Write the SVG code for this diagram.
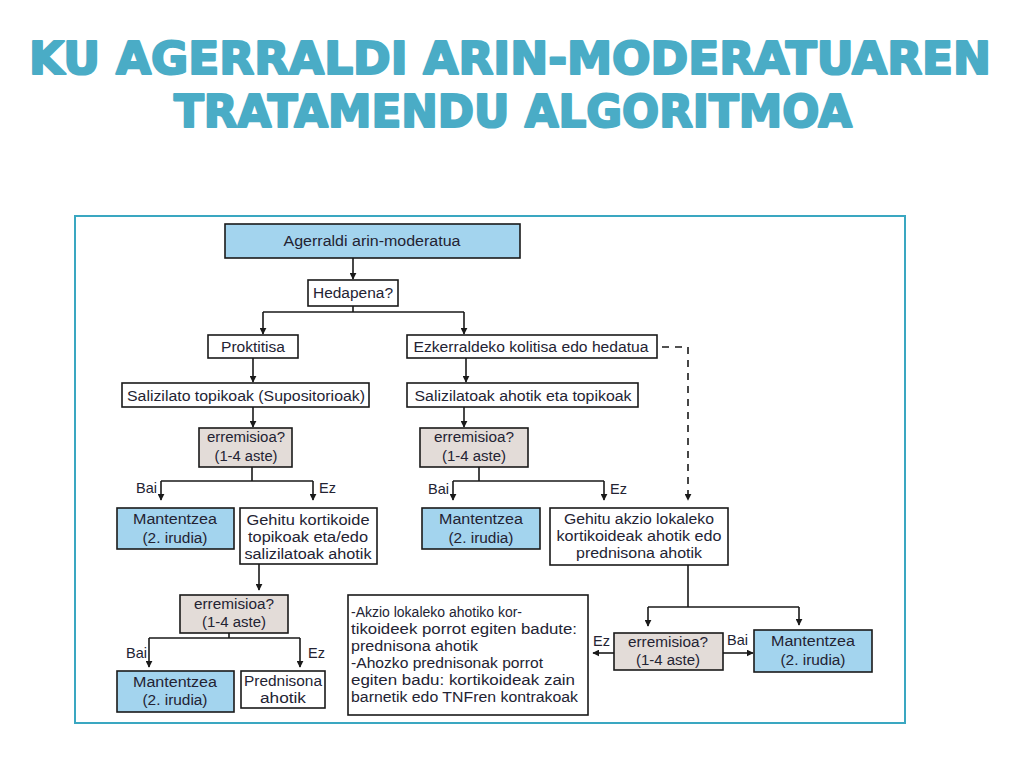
<svg xmlns="http://www.w3.org/2000/svg" width="1024" height="768" viewBox="0 0 1024 768">
<style>
.title{font-family:"DejaVu Sans","Liberation Sans",sans-serif;font-weight:bold;fill:#4aacc6;stroke:#4aacc6;stroke-width:2.2;stroke-linejoin:round;}
.box{stroke:#1a1a1a;stroke-width:1.6;}
.w{fill:#ffffff;}
.b{fill:#a3d4ee;}
.g{fill:#e3dcd8;}
.t{font-family:"Liberation Sans",Arial,sans-serif;font-size:15.5px;fill:#232333;text-anchor:middle;}
.tl{font-family:"Liberation Sans",Arial,sans-serif;font-size:15.5px;fill:#232333;}
.lab{font-family:"Liberation Sans",Arial,sans-serif;font-size:14.5px;fill:#232333;}
.c{fill:none;stroke:#1a1a1a;stroke-width:1.6;}
.d{fill:none;stroke:#1a1a1a;stroke-width:1.6;stroke-dasharray:7,6;}
</style>
<defs>
<marker id="ah" viewBox="0 0 10 10" refX="9" refY="5" markerWidth="7" markerHeight="7" markerUnits="userSpaceOnUse" orient="auto">
<path d="M0,0 L10,5 L0,10 z" fill="#1a1a1a"/>
</marker>
</defs>
<rect width="1024" height="768" fill="#ffffff"/>
<g id="title">
<text class="title" x="29" y="74" font-size="45" textLength="962" lengthAdjust="spacingAndGlyphs">KU AGERRALDI ARIN-MODERATUAREN</text>
<text class="title" x="174" y="127" font-size="45" textLength="678" lengthAdjust="spacingAndGlyphs">TRATAMENDU ALGORITMOA</text>
</g>
<rect id="frame" x="75" y="216" width="830" height="507" fill="none" stroke="#3aa7c1" stroke-width="2"/>
<g id="connectors">
<path class="c" d="M353,258 V279" marker-end="url(#ah)"/>
<path class="c" d="M353,306 V312 M263,312 H464"/>
<path class="c" d="M263,312 V334" marker-end="url(#ah)"/>
<path class="c" d="M464,312 V334" marker-end="url(#ah)"/>
<path class="c" d="M253,358 V382" marker-end="url(#ah)"/>
<path class="c" d="M466,358 V382" marker-end="url(#ah)"/>
<path class="c" d="M253,407 V427" marker-end="url(#ah)"/>
<path class="c" d="M464,407 V427" marker-end="url(#ah)"/>
<path class="c" d="M252,467 V481 M161,481 H313"/>
<path class="c" d="M161,481 V500" marker-end="url(#ah)"/>
<path class="c" d="M313,481 V500" marker-end="url(#ah)"/>
<path class="c" d="M479,467 V481 M453,481 H604"/>
<path class="c" d="M453,481 V500" marker-end="url(#ah)"/>
<path class="c" d="M604,481 V500" marker-end="url(#ah)"/>
<path class="c" d="M259,564 V590" marker-end="url(#ah)"/>
<path class="c" d="M229,633 V638 M149,638 H300"/>
<path class="c" d="M149,638 V667" marker-end="url(#ah)"/>
<path class="c" d="M300,638 V667" marker-end="url(#ah)"/>
<path class="d" d="M662,347 H688 V500" marker-end="url(#ah)"/>
<path class="c" d="M688,565 V607 M648,607 H799"/>
<path class="c" d="M648,607 V626" marker-end="url(#ah)"/>
<path class="c" d="M799,607 V625" marker-end="url(#ah)"/>
<path class="c" d="M614,653 H593" marker-end="url(#ah)"/>
<path class="c" d="M723,653 H753" marker-end="url(#ah)"/>
<text class="lab" x="157" y="493" text-anchor="end">Bai</text>
<text class="lab" x="319" y="493">Ez</text>
<text class="lab" x="449" y="494" text-anchor="end">Bai</text>
<text class="lab" x="610" y="494">Ez</text>
<text class="lab" x="147" y="658" text-anchor="end">Bai</text>
<text class="lab" x="308" y="658">Ez</text>
<text class="lab" x="593" y="646">Ez</text>
<text class="lab" x="727" y="645">Bai</text>
</g>
<g id="n-agerraldi">
<rect class="box b" x="225" y="224" width="295" height="34"/>
<text class="t" x="372" y="246" textLength="177" lengthAdjust="spacingAndGlyphs">Agerraldi arin-moderatua</text>
</g>
<g id="n-hedapena">
<rect class="box w" x="308" y="280" width="90" height="26"/>
<text class="t" x="353" y="298" textLength="80" lengthAdjust="spacingAndGlyphs">Hedapena?</text>
</g>
<g id="n-proktitisa">
<rect class="box w" x="208" y="335" width="90" height="23"/>
<text class="t" x="253" y="352" textLength="64" lengthAdjust="spacingAndGlyphs">Proktitisa</text>
</g>
<g id="n-ezkerraldeko">
<rect class="box w" x="407" y="335" width="250" height="23"/>
<text class="t" x="531" y="352" textLength="235" lengthAdjust="spacingAndGlyphs">Ezkerraldeko kolitisa edo hedatua</text>
</g>
<g id="n-salizilato-topikoak">
<rect class="box w" x="122" y="383" width="247" height="24"/>
<text class="t" x="246" y="401" textLength="238" lengthAdjust="spacingAndGlyphs">Salizilato topikoak (Supositorioak)</text>
</g>
<g id="n-salizilatoak-ahotik">
<rect class="box w" x="407" y="383" width="231" height="24"/>
<text class="t" x="523" y="401" textLength="217" lengthAdjust="spacingAndGlyphs">Salizilatoak ahotik eta topikoak</text>
</g>
<g id="n-erremisioa-1">
<rect class="box g" x="199" y="428" width="93" height="39"/>
<text class="t" x="246" y="442" textLength="78" lengthAdjust="spacingAndGlyphs">erremisioa?</text>
<text class="t" x="246" y="461" textLength="63" lengthAdjust="spacingAndGlyphs">(1-4 aste)</text>
</g>
<g id="n-erremisioa-3">
<rect class="box g" x="420" y="428" width="108" height="39"/>
<text class="t" x="474" y="442" textLength="80" lengthAdjust="spacingAndGlyphs">erremisioa?</text>
<text class="t" x="474" y="461" textLength="64" lengthAdjust="spacingAndGlyphs">(1-4 aste)</text>
</g>
<g id="n-mantentzea-1">
<rect class="box b" x="117" y="508" width="117" height="41"/>
<text class="t" x="175" y="524" textLength="84" lengthAdjust="spacingAndGlyphs">Mantentzea</text>
<text class="t" x="175" y="543" textLength="65" lengthAdjust="spacingAndGlyphs">(2. irudia)</text>
</g>
<g id="n-gehitu-kortikoide">
<rect class="box w" x="240" y="508" width="137" height="56"/>
<text class="t" x="308" y="525" textLength="123" lengthAdjust="spacingAndGlyphs">Gehitu kortikoide</text>
<text class="t" x="308" y="542" textLength="120" lengthAdjust="spacingAndGlyphs">topikoak eta/edo</text>
<text class="t" x="308" y="559" textLength="127" lengthAdjust="spacingAndGlyphs">salizilatoak ahotik</text>
</g>
<g id="n-mantentzea-2">
<rect class="box b" x="422" y="508" width="118" height="41"/>
<text class="t" x="481" y="524" textLength="84" lengthAdjust="spacingAndGlyphs">Mantentzea</text>
<text class="t" x="481" y="543" textLength="65" lengthAdjust="spacingAndGlyphs">(2. irudia)</text>
</g>
<g id="n-gehitu-akzio">
<rect class="box w" x="550" y="508" width="178" height="57"/>
<text class="t" x="639" y="524" textLength="150" lengthAdjust="spacingAndGlyphs">Gehitu akzio lokaleko</text>
<text class="t" x="639" y="541" textLength="165" lengthAdjust="spacingAndGlyphs">kortikoideak ahotik edo</text>
<text class="t" x="639" y="558" textLength="126" lengthAdjust="spacingAndGlyphs">prednisona ahotik</text>
</g>
<g id="n-erremisioa-2">
<rect class="box g" x="180" y="595" width="108" height="38"/>
<text class="t" x="234" y="609" textLength="80" lengthAdjust="spacingAndGlyphs">erremisioa?</text>
<text class="t" x="234" y="627" textLength="64" lengthAdjust="spacingAndGlyphs">(1-4 aste)</text>
</g>
<g id="n-oharrak">
<rect class="box w" x="348" y="595" width="240" height="120"/>
<text class="tl" x="351" y="617" textLength="171" lengthAdjust="spacingAndGlyphs">-Akzio lokaleko ahotiko kor-</text>
<text class="tl" x="351" y="634" textLength="226" lengthAdjust="spacingAndGlyphs">tikoideek porrot egiten badute:</text>
<text class="tl" x="351" y="651" textLength="127" lengthAdjust="spacingAndGlyphs">prednisona ahotik</text>
<text class="tl" x="351" y="668" textLength="192" lengthAdjust="spacingAndGlyphs">-Ahozko prednisonak porrot</text>
<text class="tl" x="351" y="685" textLength="224" lengthAdjust="spacingAndGlyphs">egiten badu: kortikoideak zain</text>
<text class="tl" x="351" y="702" textLength="227" lengthAdjust="spacingAndGlyphs">barnetik edo TNFren kontrakoak</text>
</g>
<g id="n-erremisioa-4">
<rect class="box g" x="614" y="633" width="109" height="37"/>
<text class="t" x="668" y="647" textLength="80" lengthAdjust="spacingAndGlyphs">erremisioa?</text>
<text class="t" x="668" y="665" textLength="64" lengthAdjust="spacingAndGlyphs">(1-4 aste)</text>
</g>
<g id="n-mantentzea-4">
<rect class="box b" x="754" y="630" width="118" height="42"/>
<text class="t" x="813" y="646" textLength="84" lengthAdjust="spacingAndGlyphs">Mantentzea</text>
<text class="t" x="813" y="665" textLength="65" lengthAdjust="spacingAndGlyphs">(2. irudia)</text>
</g>
<g id="n-mantentzea-3">
<rect class="box b" x="117" y="671" width="117" height="41"/>
<text class="t" x="175" y="687" textLength="84" lengthAdjust="spacingAndGlyphs">Mantentzea</text>
<text class="t" x="175" y="705" textLength="65" lengthAdjust="spacingAndGlyphs">(2. irudia)</text>
</g>
<g id="n-prednisona">
<rect class="box w" x="241" y="671" width="84" height="37"/>
<text class="t" x="283" y="686" textLength="78" lengthAdjust="spacingAndGlyphs">Prednisona</text>
<text class="t" x="283" y="703" textLength="46" lengthAdjust="spacingAndGlyphs">ahotik</text>
</g>
</svg>
